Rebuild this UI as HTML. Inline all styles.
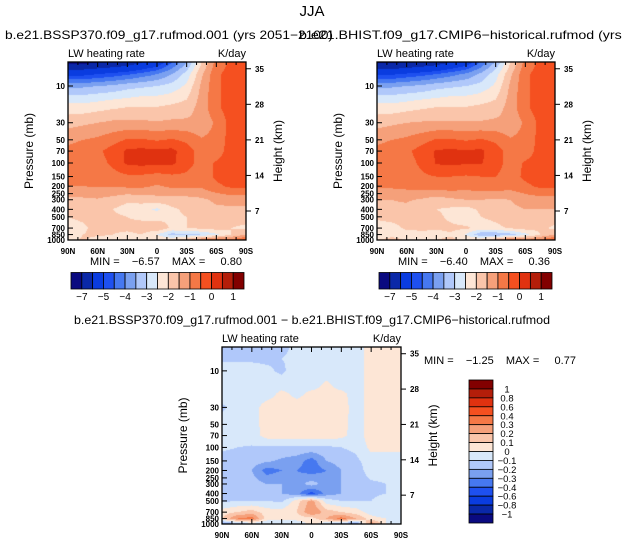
<!DOCTYPE html>
<html><head><meta charset="utf-8"><style>
html,body{margin:0;padding:0;background:#fff;width:625px;height:545px;overflow:hidden;font-family:"Liberation Sans",sans-serif}
#root{position:relative;width:625px;height:545px}
canvas{position:absolute}
svg{position:absolute;left:0;top:0}
.pre{white-space:pre}
</style></head><body><div id="root">
<canvas id="c1" width="178" height="178" style="left:68px;top:62px"></canvas>
<canvas id="c2" width="178" height="178" style="left:377px;top:62px"></canvas>
<canvas id="c3" width="179" height="177" style="left:222px;top:347px"></canvas>
<svg id="ov" width="625" height="545"></svg>
</div>
<script>
// ---- data ----
const lats = [90,75,60,45,30,15,0,-15,-30,-45,-60,-75,-90];
const plevs = [5,7,10,15,20,30,50,70,100,150,200,300,400,500,700,850,1000];
const palette = ["#0a0a80","#0a28a8","#0a3ce0","#1e50f0","#4678f0","#7aa0f0","#b0c8fa","#d8e8fa","#fde6d6","#fac5aa","#f5a07a","#f57846","#f55020","#e03210","#b41e0a","#820000"];
const levelsAbs = [-7,-6,-5,-4.5,-4,-3.5,-3,-2.5,-2,-1.5,-1,-0.5,0,0.5,1];
const levelsAbsLabels = ["-7","","-5","","-4","","-3","","-2","","-1","","0","","1"];
const levelsDiff = [-1,-0.8,-0.6,-0.4,-0.3,-0.2,-0.1,0,0.1,0.2,0.3,0.4,0.6,0.8,1];
const levelsDiffLabels = ["-1","-0.8","-0.6","-0.4","-0.3","-0.2","-0.1","0","0.1","0.2","0.3","0.4","0.6","0.8","1"];
const fieldSSP = [
[-7.2,-7.2,-7,-6.8,-6.5,-6,-5.5,-4.5,-3.5,-2.0,-0.8,-0.4,-0.4],
[-5.2,-5.2,-5,-4.8,-4.6,-4.3,-4,-3.5,-2.8,-1.6,-0.6,-0.3,-0.3],
[-3.6,-3.6,-3.5,-3.4,-3.2,-3.1,-3.0,-2.8,-2.4,-1.4,-0.6,-0.3,-0.3],
[-2.7,-2.7,-2.6,-2.5,-2.4,-2.3,-2.3,-2.2,-2.0,-1.3,-0.6,-0.3,-0.3],
[-2.2,-2.2,-2.1,-2.0,-1.9,-1.9,-1.9,-1.8,-1.7,-1.3,-0.6,-0.3,-0.3],
[-1.7,-1.6,-1.5,-1.4,-1.4,-1.4,-1.45,-1.4,-1.4,-1.4,-0.9,-0.3,-0.3],
[-1.1,-1.0,-0.9,-0.7,-0.45,-0.45,-0.55,-0.45,-0.6,-0.95,-0.8,-0.3,-0.3],
[-0.9,-0.8,-0.6,-0.3,0.1,0.15,0.1,0.15,-0.3,-0.7,-0.7,-0.3,-0.3],
[-0.9,-0.8,-0.7,-0.4,0.1,0.15,0.1,0.1,-0.3,-0.7,-0.45,-0.3,-0.3],
[-0.9,-0.9,-0.8,-0.7,-0.6,-0.6,-0.7,-0.6,-0.6,-0.8,-0.4,-0.3,-0.3],
[-1.0,-1.0,-0.95,-0.95,-0.9,-0.9,-1.05,-0.9,-0.9,-0.9,-0.6,-0.4,-0.4],
[-1.6,-1.6,-1.55,-1.7,-1.9,-1.8,-1.7,-1.7,-1.7,-1.6,-1.4,-1.3,-1.3],
[-1.7,-1.7,-1.7,-2.0,-2.2,-2.3,-2.6,-2.1,-1.9,-1.7,-1.6,-1.6,-1.6],
[-2.0,-1.9,-1.9,-1.9,-2.0,-2.1,-2.2,-2.1,-2.0,-1.9,-1.8,-1.8,-1.8],
[-2.2,-2.1,-1.8,-1.9,-1.9,-1.8,-1.6,-2.1,-2.0,-1.9,-1.8,-2.0,-2.1],
[-2.4,-2.0,-1.9,-2.0,-2.1,-2.0,-2.5,-3.2,-3.1,-3.0,-2.6,-2.0,-1.5],
[-2.3,-1.9,-2.2,-2.3,-2.1,-2.0,-2.0,-2.0,-1.6,-0.9,-0.6,-0.8,-0.3]];
const fieldHIST = [
[-7.1,-7.1,-6.9,-6.7,-6.4,-5.9,-5.4,-4.4,-3.4,-2.0,-0.8,-0.4,-0.4],
[-5.1,-5.1,-4.9,-4.7,-4.5,-4.2,-3.9,-3.4,-2.7,-1.6,-0.6,-0.3,-0.3],
[-3.6,-3.6,-3.5,-3.4,-3.2,-3.1,-3.0,-2.8,-2.4,-1.4,-0.6,-0.3,-0.3],
[-2.7,-2.7,-2.6,-2.5,-2.4,-2.3,-2.3,-2.2,-2.0,-1.3,-0.6,-0.3,-0.3],
[-2.2,-2.2,-2.1,-2.0,-1.9,-1.9,-1.9,-1.8,-1.7,-1.3,-0.6,-0.3,-0.3],
[-1.7,-1.6,-1.5,-1.45,-1.45,-1.45,-1.45,-1.45,-1.4,-1.4,-0.9,-0.35,-0.35],
[-1.1,-1.0,-0.9,-0.7,-0.45,-0.45,-0.55,-0.45,-0.6,-0.95,-0.8,-0.35,-0.35],
[-0.9,-0.8,-0.6,-0.3,0.05,0.1,0.05,0.1,-0.3,-0.7,-0.7,-0.35,-0.35],
[-0.9,-0.8,-0.7,-0.4,0.05,0.1,0.05,0.05,-0.3,-0.7,-0.45,-0.35,-0.35],
[-0.8,-0.8,-0.7,-0.6,-0.5,-0.5,-0.55,-0.5,-0.5,-0.7,-0.4,-0.3,-0.3],
[-0.9,-0.9,-0.85,-0.8,-0.7,-0.7,-0.8,-0.7,-0.7,-0.8,-0.6,-0.4,-0.4],
[-1.5,-1.5,-1.45,-1.55,-1.75,-1.6,-1.5,-1.5,-1.55,-1.5,-1.3,-1.2,-1.2],
[-1.6,-1.6,-1.6,-1.85,-2.0,-2.1,-2.2,-1.9,-1.75,-1.6,-1.5,-1.5,-1.5],
[-1.9,-1.8,-1.8,-1.8,-1.9,-2.1,-2.4,-2.0,-1.9,-1.8,-1.7,-1.75,-1.75],
[-2.25,-2.2,-1.9,-1.95,-1.95,-1.9,-1.9,-2.2,-2.1,-1.95,-1.8,-1.9,-2.1],
[-2.5,-2.3,-2.25,-2.05,-2.15,-2.05,-2.55,-3.4,-3.45,-3.2,-2.65,-2.0,-1.5],
[-2.0,-1.7,-2.1,-2.2,-2.0,-1.9,-2.05,-1.9,-1.4,-0.6,-0.9,-0.8,-0.3]];
const fieldDiff = [
[-0.15,-0.15,-0.15,-0.15,-0.12,-0.08,-0.05,-0.05,-0.05,-0.05,0.05,0.05,0.05],
[-0.12,-0.12,-0.12,-0.12,-0.1,-0.08,-0.05,-0.05,-0.05,-0.05,0.05,0.05,0.05],
[-0.05,-0.05,-0.05,-0.08,-0.12,-0.05,-0.05,-0.05,-0.05,-0.05,0.05,0.05,0.05],
[-0.05,-0.05,-0.05,-0.05,-0.05,-0.05,-0.05,0.02,-0.05,-0.05,0.05,0.05,0.05],
[-0.05,-0.05,-0.05,-0.05,0.03,-0.03,0.03,0.03,0.03,-0.05,0.05,0.05,0.05],
[-0.12,-0.05,-0.05,0.05,0.05,0.05,0.03,0.05,0.05,-0.05,0.05,0.05,0.05],
[-0.05,-0.05,-0.05,0.05,0.05,0.05,0.05,0.05,0.04,-0.05,0.05,0.05,0.05],
[-0.05,-0.05,-0.05,0.04,0.05,0.05,0.05,0.05,0.03,-0.05,0.05,0.05,0.05],
[-0.08,-0.1,-0.11,-0.12,-0.12,-0.12,-0.12,-0.12,-0.1,-0.08,0.03,0.03,0.03],
[-0.15,-0.15,-0.15,-0.18,-0.22,-0.25,-0.35,-0.2,-0.15,-0.12,-0.05,-0.05,-0.05],
[-0.15,-0.15,-0.2,-0.35,-0.3,-0.3,-0.35,-0.3,-0.2,-0.15,-0.05,-0.05,-0.05],
[-0.15,-0.15,-0.15,-0.2,-0.2,-0.25,-0.15,-0.25,-0.2,-0.15,-0.12,-0.1,-0.08],
[-0.15,-0.12,-0.12,-0.15,-0.2,-0.25,-0.45,-0.25,-0.2,-0.15,-0.12,-0.1,-0.08],
[-0.12,-0.1,-0.1,-0.1,-0.12,0.05,0.25,-0.05,-0.1,-0.1,-0.1,-0.05,-0.05],
[0.05,0.1,0.15,0.05,0.05,0.1,0.3,0.15,0.1,0.05,-0.05,-0.1,-0.05],
[0.1,0.3,0.35,0.05,0.05,0.05,0.05,0.2,0.35,0.2,0.05,0,-0.05],
[-0.3,-0.2,-0.1,-0.1,-0.1,-0.1,0.05,-0.1,-0.2,-0.3,0.3,0,0]];
const pTickLabels = [10,30,50,70,100,150,200,250,300,400,500,700,850,1000];
const hTickLabels = [35,28,21,14,7];
const latTickLabels = ["90N","60N","30N","0","30S","60S","90S"];

// ---- scales ----
const PTOP = Math.pow(10, 3 - 178/77);
function yOfP(p, h){ return h*(Math.log10(p)-Math.log10(PTOP))/(3-Math.log10(PTOP)); }
function pOfY(y, h){ return Math.pow(10, Math.log10(PTOP)+ y/h*(3-Math.log10(PTOP))); }
function xOfLat(lat, w){ return w*(90-lat)/180; }
function yOfH(h, H){ return (149-(h-7)*5.08)*H/178; }
function hexRGB(c){ return [parseInt(c.substr(1,2),16),parseInt(c.substr(3,2),16),parseInt(c.substr(5,2),16)]; }
const palRGB = palette.map(hexRGB);
function bin(v, lev){ let i=0; while(i<lev.length && v>=lev[i]) i++; return i; }
function sample(field, lat, p){
  let fi=(90-lat)/15; let i0=Math.min(Math.floor(fi),11); let tx=fi-i0;
  let lp=Math.log10(p); let j0=0;
  while(j0<plevs.length-2 && Math.log10(plevs[j0+1])<lp) j0++;
  let a=Math.log10(plevs[j0]), b=Math.log10(plevs[j0+1]);
  let ty=Math.max(0,Math.min(1,(lp-a)/(b-a)));
  const f=(j,i)=>field[j][i];
  return (1-ty)*((1-tx)*f(j0,i0)+tx*f(j0,i0+1)) + ty*((1-tx)*f(j0+1,i0)+tx*f(j0+1,i0+1));
}
function drawField(id, field, lev){
  const cv=document.getElementById(id), ctx=cv.getContext('2d');
  const w=cv.width,h=cv.height, img=ctx.createImageData(w,h);
  for(let y=0;y<h;y++) for(let x=0;x<w;x++){
    const lat=90-180*(x+0.5)/w, p=pOfY(y+0.5,h);
    const c=palRGB[bin(sample(field,lat,p),lev)];
    const k=(y*w+x)*4; img.data[k]=c[0];img.data[k+1]=c[1];img.data[k+2]=c[2];img.data[k+3]=255;
  }
  ctx.putImageData(img,0,0);
}
drawField('c1', fieldSSP, levelsAbs);
drawField('c2', fieldHIST, levelsAbs);
drawField('c3', fieldDiff, levelsDiff);

// ---- overlay ----
const NS="http://www.w3.org/2000/svg", ov=document.getElementById('ov');
function el(tag, attrs, text){ const e=document.createElementNS(NS,tag); for(const k in attrs) e.setAttribute(k,attrs[k]); if(text!==undefined) e.textContent=text; ov.appendChild(e); return e; }
function txt(x,y,s,size,anchor,name,extra){
  const e=el('text',Object.assign({x:x,y:y,'font-size':size,'text-anchor':anchor||'start',fill:'#000','font-family':'Liberation Sans, sans-serif'},extra||{}),s);
  
  
  return e;
}
function panel(X,Y,W,H,pfx){
  const fr=el('rect',{x:X,y:Y,width:W,height:H,fill:'none',stroke:'#000','stroke-width':1.3});
  
  
  for(let lat=90;lat>=-90;lat-=10){
    const x=X+xOfLat(lat,W), major=lat%30===0, L=major?5:3;
    el('line',{x1:x,y1:Y+H,x2:x,y2:Y+H-L,stroke:'#000','stroke-width':1});
    el('line',{x1:x,y1:Y,x2:x,y2:Y+L,stroke:'#000','stroke-width':1});
  }
  latTickLabels.forEach((s,i)=>{
    txt(X+xOfLat(90-30*i,W), Y+H+14, s, 8,'middle', pfx+'-x-tick-label',{'font-weight':'bold'});
  });
  pTickLabels.forEach(p=>{
    const y=Y+yOfP(p,H);
    el('line',{x1:X,y1:y,x2:X+5,y2:y,stroke:'#000','stroke-width':1});
    txt(X-3, y+3, String(p), 8,'end', pfx+'-y-tick-label',{'font-weight':'bold'});
  });
  hTickLabels.forEach(hk=>{
    const y=Y+yOfH(hk,H);
    el('line',{x1:X+W,y1:y,x2:X+W+5,y2:y,stroke:'#000','stroke-width':1});
    txt(X+W+9, y+3, String(hk), 8,'start', pfx+'-height-tick-label',{'font-weight':'bold'});
  });
  txt(X, Y-5, 'LW heating rate', 11,'start', pfx+'-left-string');
  txt(X+W, Y-5, 'K/day', 11,'end', pfx+'-right-string');
  const cx=X-35, cy=Y+H/2;
  txt(cx, cy, 'Pressure (mb)', 12,'middle', pfx+'-y-axis-title',{transform:`rotate(-90 ${cx} ${cy})`});
  const hx=X+W+36;
  txt(hx, cy, 'Height (km)', 12,'middle', pfx+'-height-axis-title',{transform:`rotate(-90 ${hx} ${cy})`});
}
function hbar(X,Y,W,H,pfx){
  const n=palette.length, bw=W/n;
  palette.forEach((c,i)=>{
    const r=el('rect',{x:X+i*bw,y:Y,width:bw,height:H,fill:c,stroke:'#000','stroke-width':0.8});
    
    
  });
  levelsAbsLabels.forEach((s,i)=>{ if(s) txt(X+(i+1)*bw, Y+H+11, s.replace('-','\u2212'), 10,'middle', pfx+'-colorbar-label'); });
}
panel(68,62,178,178,'ssp370');
panel(377,62,178,178,'hist');
panel(222,347,179,177,'diff');
hbar(71,272.5,173,16.5,'ssp370');
hbar(379,272.5,173,16.5,'hist');
// vertical colorbar
(function(){
  const X=469,Y=380,W=24,H=143,n=palette.length,bh=H/n;
  palette.slice().reverse().forEach((c,i)=>{
    const r=el('rect',{x:X,y:Y+i*bh,width:W,height:bh,fill:c,stroke:'#000','stroke-width':0.8});
    
    
  });
  levelsDiffLabels.slice().reverse().forEach((s,i)=>{
    txt(X+W+14, Y+(i+1)*bh+3.5, s.replace('-','\u2212'), 9.5,'middle','diff-colorbar-label');
  });
})();
txt(312,16,'JJA',15,'middle','main-title');
txt(5,39,'b.e21.BSSP370.f09_g17.rufmod.001 (yrs 2051\u22122100)',12,'start','ssp370-title',{textLength:328,lengthAdjust:'spacingAndGlyphs'});
txt(299,39,'b.e21.BHIST.f09_g17.CMIP6\u2212historical.rufmod (yrs 1965\u22122014)',12,'start','hist-title',{textLength:403,lengthAdjust:'spacingAndGlyphs'});
txt(90,265,'MIN =    \u22126.57    MAX =     0.80',11,'start','ssp370-min-max',{'class':'pre'});
txt(398,265,'MIN =    \u22126.40    MAX =     0.36',11,'start','hist-min-max',{'class':'pre'});
txt(312,324,'b.e21.BSSP370.f09_g17.rufmod.001 \u2212 b.e21.BHIST.f09_g17.CMIP6\u2212historical.rufmod',12,'middle','diff-title',{textLength:476,lengthAdjust:'spacingAndGlyphs'});
txt(424,364,'MIN =    \u22121.25    MAX =     0.77',11,'start','diff-min-max',{'class':'pre'});
</script></body></html>
